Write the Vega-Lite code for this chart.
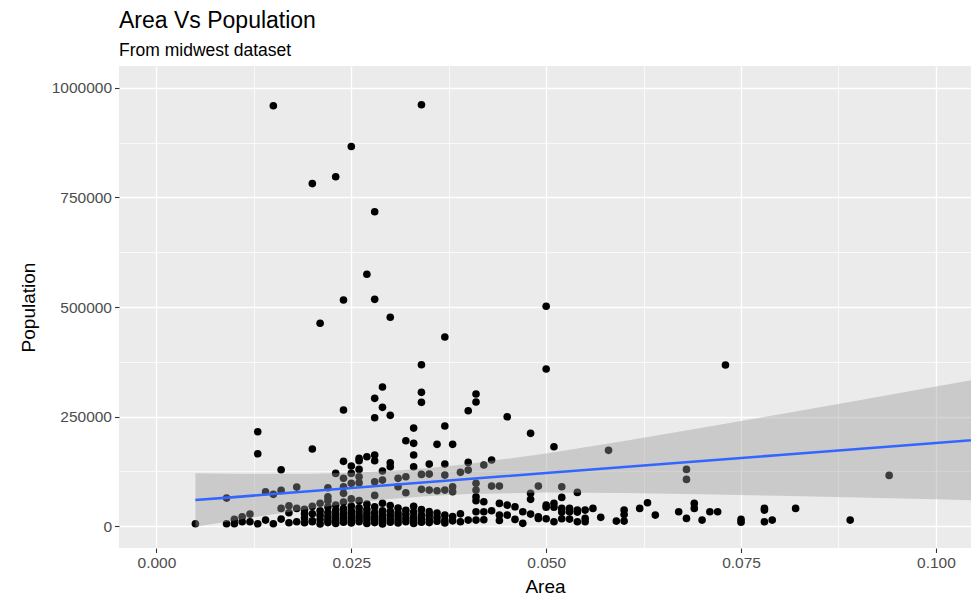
{
  "$schema": "https://vega.github.io/schema/vega-lite/v6.json",
  "width": 852,
  "height": 482,
  "autosize": {"type": "none"},
  "padding": {"left": 119, "top": 66, "right": 0, "bottom": 48},
  "background": "#FFFFFF",
  "title": {
    "text": "Area Vs Population",
    "subtitle": "From midwest dataset",
    "anchor": "start",
    "frame": "group",
    "font": "Liberation Sans",
    "subtitleFont": "Liberation Sans",
    "fontSize": 23,
    "fontWeight": "normal",
    "subtitleFontSize": 17.5,
    "color": "#000000",
    "subtitleColor": "#000000",
    "offset": 7,
    "subtitlePadding": 9
  },
  "datasets": {
    "points": [
      {"area": 0.015, "pop": 959275}, {"area": 0.034, "pop": 961437}, {"area": 0.025, "pop": 866228}, {"area": 0.023, "pop": 797159},
      {"area": 0.020, "pop": 781666}, {"area": 0.028, "pop": 717400}, {"area": 0.027, "pop": 574600}, {"area": 0.024, "pop": 516000},
      {"area": 0.028, "pop": 517500}, {"area": 0.050, "pop": 501600}, {"area": 0.030, "pop": 476500}, {"area": 0.021, "pop": 462800},
      {"area": 0.037, "pop": 431500}, {"area": 0.034, "pop": 368300}, {"area": 0.050, "pop": 358600}, {"area": 0.073, "pop": 367600},
      {"area": 0.029, "pop": 317300}, {"area": 0.028, "pop": 291500}, {"area": 0.034, "pop": 305200}, {"area": 0.034, "pop": 282400},
      {"area": 0.041, "pop": 301400}, {"area": 0.041, "pop": 283100}, {"area": 0.029, "pop": 271000}, {"area": 0.024, "pop": 264800},
      {"area": 0.030, "pop": 252700}, {"area": 0.028, "pop": 247300}, {"area": 0.040, "pop": 263300}, {"area": 0.045, "pop": 249600},
      {"area": 0.013, "pop": 215300}, {"area": 0.033, "pop": 223700}, {"area": 0.037, "pop": 228300}, {"area": 0.048, "pop": 211600},
      {"area": 0.032, "pop": 194700}, {"area": 0.033, "pop": 188800}, {"area": 0.036, "pop": 186500}, {"area": 0.038, "pop": 186500},
      {"area": 0.051, "pop": 181000}, {"area": 0.013, "pop": 165000}, {"area": 0.020, "pop": 175800}, {"area": 0.016, "pop": 128500},
      {"area": 0.058, "pop": 172800}, {"area": 0.068, "pop": 129400}, {"area": 0.068, "pop": 106600}, {"area": 0.094, "pop": 115700},
      {"area": 0.009, "pop": 63900}, {"area": 0.014, "pop": 78300}, {"area": 0.015, "pop": 72400}, {"area": 0.016, "pop": 81500},
      {"area": 0.018, "pop": 89000}, {"area": 0.022, "pop": 87400}, {"area": 0.022, "pop": 66900}, {"area": 0.023, "pop": 120300},
      {"area": 0.024, "pop": 147700}, {"area": 0.025, "pop": 137000}, {"area": 0.026, "pop": 149100}, {"area": 0.025, "pop": 120300},
      {"area": 0.026, "pop": 129400}, {"area": 0.024, "pop": 108900}, {"area": 0.024, "pop": 89700}, {"area": 0.024, "pop": 74700},
      {"area": 0.025, "pop": 97500}, {"area": 0.027, "pop": 158200}, {"area": 0.028, "pop": 162100}, {"area": 0.028, "pop": 149100},
      {"area": 0.026, "pop": 154500}, {"area": 0.033, "pop": 162100}, {"area": 0.033, "pop": 135400}, {"area": 0.035, "pop": 141500},
      {"area": 0.037, "pop": 141500}, {"area": 0.030, "pop": 144500}, {"area": 0.030, "pop": 135400}, {"area": 0.029, "pop": 125600},
      {"area": 0.040, "pop": 145400}, {"area": 0.043, "pop": 150700}, {"area": 0.042, "pop": 139300}, {"area": 0.040, "pop": 127800},
      {"area": 0.039, "pop": 122600}, {"area": 0.034, "pop": 118000}, {"area": 0.035, "pop": 118700}, {"area": 0.037, "pop": 116400},
      {"area": 0.032, "pop": 112600}, {"area": 0.031, "pop": 108900}, {"area": 0.026, "pop": 112600}, {"area": 0.026, "pop": 98900},
      {"area": 0.028, "pop": 101100}, {"area": 0.029, "pop": 105000}, {"area": 0.031, "pop": 89700}, {"area": 0.032, "pop": 76000},
      {"area": 0.034, "pop": 83800}, {"area": 0.035, "pop": 82200}, {"area": 0.036, "pop": 80600}, {"area": 0.037, "pop": 82200},
      {"area": 0.038, "pop": 89700}, {"area": 0.038, "pop": 78300}, {"area": 0.041, "pop": 97500}, {"area": 0.041, "pop": 82200},
      {"area": 0.043, "pop": 91300}, {"area": 0.044, "pop": 91300}, {"area": 0.041, "pop": 66900}, {"area": 0.041, "pop": 57800},
      {"area": 0.042, "pop": 55500}, {"area": 0.044, "pop": 51800}, {"area": 0.045, "pop": 47900}, {"area": 0.046, "pop": 44100},
      {"area": 0.048, "pop": 74700}, {"area": 0.048, "pop": 61000}, {"area": 0.049, "pop": 91300}, {"area": 0.052, "pop": 89700},
      {"area": 0.054, "pop": 76900}, {"area": 0.052, "pop": 65500},
      {"area": 0.005, "pop": 5300}, {"area": 0.016, "pop": 40400}, {"area": 0.017, "pop": 46300}, {"area": 0.017, "pop": 30400},
      {"area": 0.018, "pop": 40400}, {"area": 0.019, "pop": 38100}, {"area": 0.012, "pop": 27400}, {"area": 0.011, "pop": 21200},
      {"area": 0.010, "pop": 15300}, {"area": 0.009, "pop": 5300}, {"area": 0.010, "pop": 5300}, {"area": 0.011, "pop": 9800},
      {"area": 0.012, "pop": 9800}, {"area": 0.013, "pop": 5300}, {"area": 0.014, "pop": 13700}, {"area": 0.015, "pop": 5300},
      {"area": 0.016, "pop": 16000}, {"area": 0.017, "pop": 7500}, {"area": 0.018, "pop": 9800}, {"area": 0.019, "pop": 18300},
      {"area": 0.019, "pop": 7500}, {"area": 0.020, "pop": 28100}, {"area": 0.020, "pop": 9800},
      {"area": 0.047, "pop": 32600}, {"area": 0.048, "pop": 27400}, {"area": 0.049, "pop": 21200}, {"area": 0.042, "pop": 32600},
      {"area": 0.043, "pop": 34900}, {"area": 0.044, "pop": 25100}, {"area": 0.045, "pop": 25100}, {"area": 0.041, "pop": 32600},
      {"area": 0.040, "pop": 13700}, {"area": 0.041, "pop": 13700}, {"area": 0.042, "pop": 14500}, {"area": 0.047, "pop": 6200},
      {"area": 0.046, "pop": 15300}, {"area": 0.044, "pop": 12900},
      {"area": 0.050, "pop": 47900}, {"area": 0.051, "pop": 51800}, {"area": 0.050, "pop": 43000}, {"area": 0.051, "pop": 43000},
      {"area": 0.052, "pop": 40400}, {"area": 0.053, "pop": 40400}, {"area": 0.054, "pop": 36500}, {"area": 0.055, "pop": 36500},
      {"area": 0.056, "pop": 40400}, {"area": 0.053, "pop": 33000}, {"area": 0.054, "pop": 32000}, {"area": 0.052, "pop": 32000},
      {"area": 0.049, "pop": 17600}, {"area": 0.050, "pop": 16800}, {"area": 0.051, "pop": 9800}, {"area": 0.052, "pop": 16800},
      {"area": 0.053, "pop": 16000}, {"area": 0.054, "pop": 9800}, {"area": 0.055, "pop": 9800}, {"area": 0.055, "pop": 17600},
      {"area": 0.057, "pop": 19900}, {"area": 0.059, "pop": 11400}, {"area": 0.060, "pop": 36500}, {"area": 0.060, "pop": 26600},
      {"area": 0.060, "pop": 11400}, {"area": 0.062, "pop": 40400}, {"area": 0.063, "pop": 53200}, {"area": 0.064, "pop": 25100},
      {"area": 0.067, "pop": 32600}, {"area": 0.068, "pop": 17600}, {"area": 0.069, "pop": 51800}, {"area": 0.069, "pop": 40400},
      {"area": 0.070, "pop": 13700}, {"area": 0.071, "pop": 32600}, {"area": 0.072, "pop": 32600}, {"area": 0.075, "pop": 15300},
      {"area": 0.075, "pop": 9000}, {"area": 0.078, "pop": 40400}, {"area": 0.078, "pop": 36500}, {"area": 0.078, "pop": 9800},
      {"area": 0.079, "pop": 13700}, {"area": 0.082, "pop": 40400}, {"area": 0.089, "pop": 13700},
      {"area": 0.019, "pop": 28000}, {"area": 0.020, "pop": 45000}, {"area": 0.020, "pop": 12000},
      {"area": 0.021, "pop": 5000}, {"area": 0.021, "pop": 15000}, {"area": 0.021, "pop": 25000}, {"area": 0.021, "pop": 35000}, {"area": 0.021, "pop": 52000},
      {"area": 0.022, "pop": 8000}, {"area": 0.022, "pop": 14000}, {"area": 0.022, "pop": 22000}, {"area": 0.022, "pop": 31000}, {"area": 0.022, "pop": 44000}, {"area": 0.022, "pop": 58000},
      {"area": 0.023, "pop": 6000}, {"area": 0.023, "pop": 12000}, {"area": 0.023, "pop": 19000}, {"area": 0.023, "pop": 27000}, {"area": 0.023, "pop": 36000}, {"area": 0.023, "pop": 48000},
      {"area": 0.024, "pop": 9000}, {"area": 0.024, "pop": 16000}, {"area": 0.024, "pop": 23000}, {"area": 0.024, "pop": 30000}, {"area": 0.024, "pop": 40000}, {"area": 0.024, "pop": 55000},
      {"area": 0.025, "pop": 7000}, {"area": 0.025, "pop": 13000}, {"area": 0.025, "pop": 20000}, {"area": 0.025, "pop": 28000}, {"area": 0.025, "pop": 35000}, {"area": 0.025, "pop": 46000}, {"area": 0.025, "pop": 62000},
      {"area": 0.026, "pop": 10000}, {"area": 0.026, "pop": 17000}, {"area": 0.026, "pop": 24000}, {"area": 0.026, "pop": 33000}, {"area": 0.026, "pop": 42000}, {"area": 0.026, "pop": 58000},
      {"area": 0.027, "pop": 6000}, {"area": 0.027, "pop": 14000}, {"area": 0.027, "pop": 21000}, {"area": 0.027, "pop": 29000}, {"area": 0.027, "pop": 38000}, {"area": 0.027, "pop": 50000},
      {"area": 0.028, "pop": 8000}, {"area": 0.028, "pop": 15000}, {"area": 0.028, "pop": 22000}, {"area": 0.028, "pop": 31000}, {"area": 0.028, "pop": 44000}, {"area": 0.028, "pop": 70000},
      {"area": 0.029, "pop": 5000}, {"area": 0.029, "pop": 12000}, {"area": 0.029, "pop": 19000}, {"area": 0.029, "pop": 26000}, {"area": 0.029, "pop": 35000}, {"area": 0.029, "pop": 52000},
      {"area": 0.030, "pop": 9000}, {"area": 0.030, "pop": 16000}, {"area": 0.030, "pop": 25000}, {"area": 0.030, "pop": 34000}, {"area": 0.030, "pop": 47000},
      {"area": 0.031, "pop": 7000}, {"area": 0.031, "pop": 14000}, {"area": 0.031, "pop": 22000}, {"area": 0.031, "pop": 30000}, {"area": 0.031, "pop": 41000},
      {"area": 0.032, "pop": 10000}, {"area": 0.032, "pop": 18000}, {"area": 0.032, "pop": 27000}, {"area": 0.032, "pop": 36000},
      {"area": 0.033, "pop": 6000}, {"area": 0.033, "pop": 13000}, {"area": 0.033, "pop": 21000}, {"area": 0.033, "pop": 32000}, {"area": 0.033, "pop": 45000},
      {"area": 0.034, "pop": 9000}, {"area": 0.034, "pop": 17000}, {"area": 0.034, "pop": 26000}, {"area": 0.034, "pop": 38000},
      {"area": 0.035, "pop": 8000}, {"area": 0.035, "pop": 15000}, {"area": 0.035, "pop": 24000}, {"area": 0.035, "pop": 33000},
      {"area": 0.036, "pop": 11000}, {"area": 0.036, "pop": 20000}, {"area": 0.036, "pop": 30000},
      {"area": 0.037, "pop": 7000}, {"area": 0.037, "pop": 14000}, {"area": 0.037, "pop": 25000},
      {"area": 0.038, "pop": 12000}, {"area": 0.038, "pop": 22000}, {"area": 0.039, "pop": 10000}, {"area": 0.039, "pop": 28000}
    ],
    "fit": [
      {"area": 0.005, "fit": 59400, "lo": -1600, "hi": 120400},
      {"area": 0.010, "fit": 66200, "lo": 13000, "hi": 119500},
      {"area": 0.015, "fit": 73100, "lo": 27000, "hi": 119200},
      {"area": 0.020, "fit": 80000, "lo": 40200, "hi": 119700},
      {"area": 0.025, "fit": 86800, "lo": 52000, "hi": 121700},
      {"area": 0.030, "fit": 93700, "lo": 61700, "hi": 125700},
      {"area": 0.035, "fit": 100600, "lo": 68800, "hi": 132300},
      {"area": 0.040, "fit": 107400, "lo": 73300, "hi": 141500},
      {"area": 0.050, "fit": 121200, "lo": 76400, "hi": 165900},
      {"area": 0.060, "fit": 134900, "lo": 75500, "hi": 194300},
      {"area": 0.070, "fit": 148600, "lo": 72800, "hi": 224500},
      {"area": 0.080, "fit": 162300, "lo": 69200, "hi": 255500},
      {"area": 0.090, "fit": 176100, "lo": 65200, "hi": 286900},
      {"area": 0.100, "fit": 189800, "lo": 61000, "hi": 318700},
      {"area": 0.110, "fit": 203500, "lo": 56500, "hi": 350500}
    ]
  },
  "layer": [
    {
      "data": {"name": "points"},
      "mark": {"type": "point", "filled": true, "color": "#000000", "opacity": 1, "size": 58, "clip": true},
      "encoding": {
        "x": {"field": "area", "type": "quantitative", "scale": {"domain": [-0.0048, 0.1045], "nice": false, "zero": false},
          "axis": {"orient": "top", "values": [0.0125, 0.0375, 0.0625, 0.0875], "grid": true, "gridWidth": 0.7, "labels": false, "ticks": false, "domain": false, "title": null}},
        "y": {"field": "pop", "type": "quantitative", "scale": {"domain": [-50000, 1050000], "nice": false, "zero": false},
          "axis": {"orient": "right", "values": [125000, 375000, 625000, 875000], "grid": true, "gridWidth": 0.7, "labels": false, "ticks": false, "domain": false, "title": null}}
      }
    },
    {
      "data": {"name": "fit"},
      "mark": {"type": "area", "color": "#999999", "opacity": 0.4, "clip": true},
      "encoding": {
        "x": {"field": "area", "type": "quantitative",
          "axis": {"orient": "bottom", "values": [0, 0.025, 0.05, 0.075, 0.1], "format": ".3f", "grid": true, "title": "Area"}},
        "y": {"field": "hi", "type": "quantitative",
          "axis": {"orient": "left", "values": [0, 250000, 500000, 750000, 1000000], "format": "d", "grid": true, "title": "Population"}},
        "y2": {"field": "lo"}
      }
    },
    {
      "data": {"name": "fit"},
      "mark": {"type": "line", "color": "#3366FF", "strokeWidth": 2.6, "clip": true},
      "encoding": {
        "x": {"field": "area", "type": "quantitative", "axis": null},
        "y": {"field": "fit", "type": "quantitative", "axis": null}
      }
    }
  ],
  "resolve": {"axis": {"x": "independent", "y": "independent"}},
  "config": {
    "view": {"fill": "#EBEBEB", "stroke": null},
    "font": "Liberation Sans",
    "axis": {
      "domain": false,
      "gridColor": "#FFFFFF",
      "gridWidth": 1.3,
      "gridOpacity": 1,
      "tickColor": "#333333",
      "tickWidth": 1.1,
      "tickSize": 4.5,
      "labelColor": "#4D4D4D",
      "labelFont": "Liberation Sans",
      "labelFontSize": 15.5,
      "labelPadding": 3,
      "titleFont": "Liberation Sans",
      "titleFontSize": 19,
      "titleFontWeight": "normal",
      "titleColor": "#000000"
    },
    "axisLeft": {"titlePadding": 13},
    "axisBottom": {"titlePadding": 6}
  }
}
